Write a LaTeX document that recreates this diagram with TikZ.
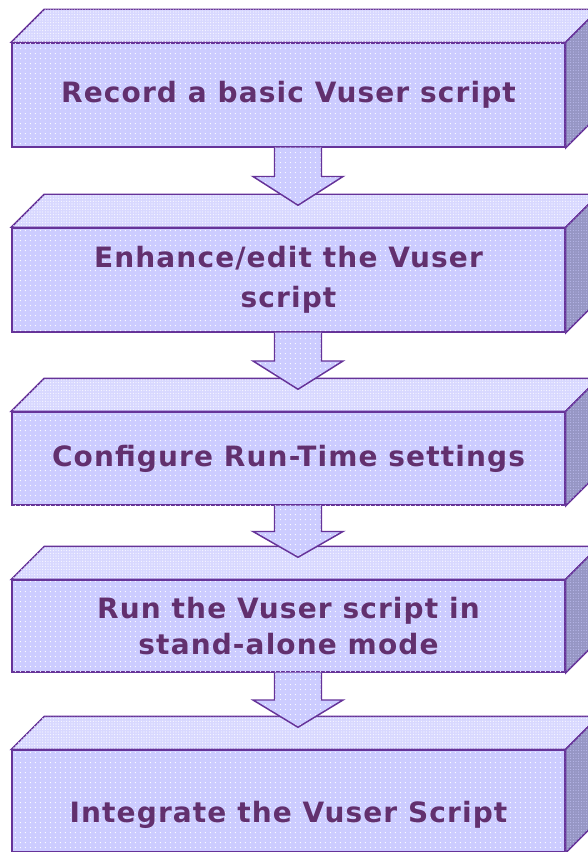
\documentclass[tikz,border=0pt]{standalone}
\usepackage{fontspec}
\setmainfont[LetterSpace=4]{DejaVu Sans}
\usetikzlibrary{positioning,calc,patterns.meta}

\definecolor{stepfill}{RGB}{204,204,255}
\definecolor{stepfilltop}{RGB}{216,216,255}
\definecolor{stepfillside}{RGB}{150,150,196}
\definecolor{stepline}{RGB}{102,51,153}
\definecolor{steptext}{RGB}{98,48,110}

\tikzset{every picture/.style={line width=1.1pt}}
\tikzset{
  stepface/.style={draw=stepline, fill=stepfill,
    postaction={pattern={Dots[distance=4pt,radius=0.45pt]}, pattern color=white},
    minimum width=414.75pt, inner sep=0pt, align=center,
    text=steptext, font=\fontsize{21}{30}\selectfont\bfseries},
  steptop/.style={draw=stepline, fill=stepfilltop,
    postaction={pattern={Dots[distance=2pt,radius=0.4pt]}, pattern color=white}},
  stepside/.style={draw=stepline, fill=stepfillside,
    postaction={pattern={Dots[distance=2pt,radius=0.35pt]}, pattern color=stepfill}},
  blockarrow/.style={fill=stepfill,
    postaction={pattern={Dots[distance=4pt,radius=0.45pt]}, pattern color=white}},
}

% top and right faces of a step box
\newcommand{\stepsides}[1]{
  \path[steptop] (#1.north west) -- ++(33,-33) -- ($(#1.north east)+(33,-33)$) -- (#1.north east) -- cycle;
  \path[stepside] (#1.north east) -- ++(33,-33) -- ($(#1.south east)+(33,-33)$) -- (#1.south east) -- cycle;
}

% fat arrow from one step box down to the next
\newcommand{\stepdown}[2]{
  \coordinate (s) at ($(#1.south)+(9.5,0)$);
  \coordinate (t) at ($(#2.north)+(9.5,-22)$);
  \coordinate (w) at ($(s)!0.5!(t)$);
  \path[blockarrow] ($(s)+(-23.5,0)$) -- ($(w)+(-23.5,0)$) -- ($(w)+(-45,0)$) -- (t)
    -- ($(w)+(45,0)$) -- ($(w)+(23.5,0)$) -- ($(s)+(23.5,0)$) -- cycle;
  \draw[stepline] ($(s)+(-23.5,0)$) -- ($(w)+(-23.5,0)$) -- ($(w)+(-45,0)$) -- (t)
    -- ($(w)+(45,0)$) -- ($(w)+(23.5,0)$) -- ($(s)+(23.5,0)$);
}

\begin{document}
\begin{tikzpicture}[x=0.75pt,y=0.75pt,yscale=-1,xscale=1]
\useasboundingbox (0,0) rectangle (587,852);

% Step boxes
\node[stepface, minimum height=78pt] (record) at (288.5,95) {Record a basic Vuser script};
\stepsides{record}

\node[stepface, minimum height=78pt] (enhance) at (288.5,280) {Enhance/edit the Vuser\\script};
\stepsides{enhance}

\node[stepface, minimum height=69.75pt] (config) at (288.5,458.5) {Configure Run-Time settings};
\stepsides{config}

\node[stepface, minimum height=69pt, font=\fontsize{21}{27.5}\selectfont\bfseries] (standalone) at (288.5,626) {Run the Vuser script in\\stand-alone mode};
\stepsides{standalone}

\node[stepface, minimum height=76.5pt] (integrate) at (288.5,801) {\raisebox{-16pt}[0pt][0pt]{Integrate the Vuser Script}};
\stepsides{integrate}

% Arrows
\stepdown{record}{enhance}
\stepdown{enhance}{config}
\stepdown{config}{standalone}
\stepdown{standalone}{integrate}

\end{tikzpicture}
\end{document}
